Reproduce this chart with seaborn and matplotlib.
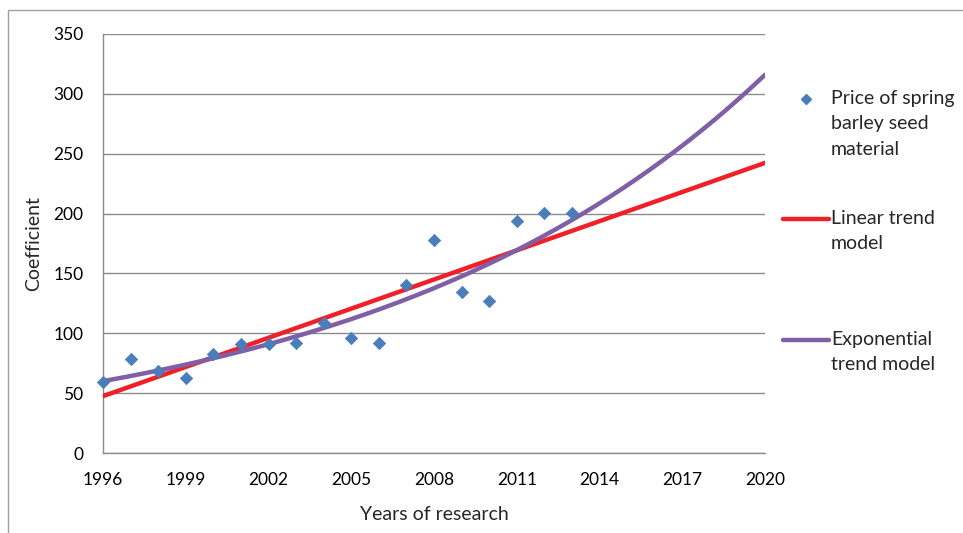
import numpy as np
import pandas as pd
import matplotlib.pyplot as plt
import seaborn as sns
from matplotlib.lines import Line2D
from matplotlib.patches import Rectangle

# valores
anos = [1996, 1997, 1998, 1999, 2000, 2001, 2002, 2003, 2004, 2005,
        2006, 2007, 2008, 2009, 2010, 2011, 2012, 2013]
preco = [59.3, 78.8, 68.8, 62.4, 83.0, 91.0, 91.0, 92.2, 108.5, 96.3,
         91.6, 140.3, 178.0, 134.2, 127.3, 193.6, 200.3, 200.8]
xticks = [1996, 1999, 2002, 2005, 2008, 2011, 2014, 2017, 2020]
yticks = [0, 50, 100, 150, 200, 250, 300, 350]
legendas = ['Price of spring\nbarley seed\nmaterial', 'Linear trend\nmodel', 'Exponential\ntrend model']

df = pd.DataFrame({'ano': anos, 'preco': preco})

# tendencias (como no Excel: linear e exponencial)
coef_lin = np.polyfit(df['ano'] - 1996, df['preco'], 1)
coef_exp = np.polyfit(df['ano'] - 1996, np.log(df['preco']), 1)
grade = np.linspace(1996, 2020, 200)
tend = pd.DataFrame({
    'ano': grade,
    'linear': np.polyval(coef_lin, grade - 1996),
    'exp': np.exp(np.polyval(coef_exp, grade - 1996)),
})

sns.set_style("white")
plt.rcParams['font.family'] = ['Lato', 'DejaVu Sans']

cor_pt = '#4a7ebb'
cor_lin = '#f02028'
cor_exp = '#7f5fa5'
cinza = '#8c8c8c'

W, H = 963, 533
fig = plt.figure(figsize=(W/100, H/100), dpi=100)
ax = fig.add_axes([103/W, 1 - 453/H, (765-103)/W, (453-34)/H])

sns.lineplot(data=tend, x='ano', y='linear', ax=ax, color=cor_lin, linewidth=3.2, zorder=3)
sns.lineplot(data=tend, x='ano', y='exp', ax=ax, color=cor_exp, linewidth=3.2, zorder=4)
sns.scatterplot(data=df, x='ano', y='preco', ax=ax, marker='D', s=40, color=cor_pt,
                edgecolor=cor_pt, zorder=5, clip_on=False)

ax.set_xlim(1996, 2020)
ax.set_ylim(0, 350)
ax.set_xticks(xticks)
ax.set_yticks(yticks)
ax.yaxis.grid(True, color=cinza, linewidth=1)
ax.xaxis.grid(False)
for s in ['top', 'right']:
    ax.spines[s].set_visible(False)
for s in ['left', 'bottom']:
    ax.spines[s].set_color(cinza)
    ax.spines[s].set_linewidth(1)
ax.tick_params(axis='both', which='major', direction='out', length=6, width=1,
               color=cinza, labelsize=12.5, labelcolor='black')
ax.tick_params(axis='x', pad=8)
ax.tick_params(axis='y', pad=8)
ax.set_xlabel('Years of research', fontsize=14, labelpad=13)
ax.set_ylabel('Coefficient', fontsize=14, labelpad=8)

# legenda desenhada a mao (simbolo alinhado com a primeira linha, como no Excel)
leg_y = [99, 219, 340]
fig.add_artist(Line2D([806/W], [1 - leg_y[0]/H], marker='D', linestyle='none',
                      color=cor_pt, markersize=5.5, transform=fig.transFigure))
for yy, cor in zip(leg_y[1:], [cor_lin, cor_exp]):
    fig.add_artist(Line2D([783/W, 829/W], [1 - yy/H, 1 - yy/H], color=cor,
                          linewidth=3.2, solid_capstyle='round', transform=fig.transFigure))
for yy, txt in zip(leg_y, legendas):
    fig.text(831/W, 1 - (yy - 9)/H, txt, fontsize=14, va='top', ha='left', linespacing=1.6)

# moldura do grafico
fig.patches.append(Rectangle((8/W, -0.1), 1.2, 1 - 10/H + 0.1, transform=fig.transFigure,
                             fill=False, edgecolor='#a0a0a0', linewidth=1))

plt.savefig('out.png', dpi=100)
